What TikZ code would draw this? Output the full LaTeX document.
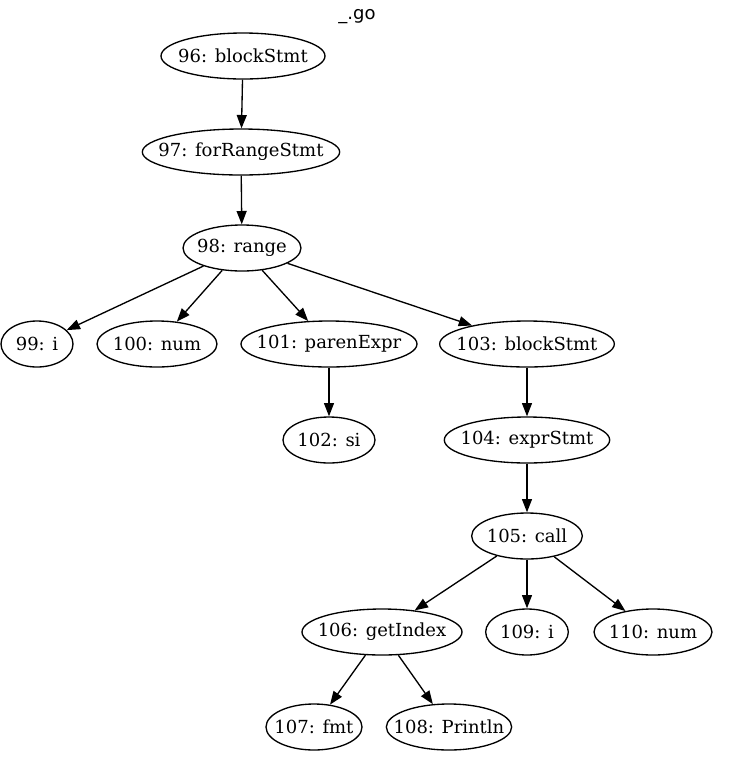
\documentclass[tikz,border=0pt]{standalone}
\usepackage{fontspec}
\setmainfont{DejaVu Serif}
\newfontfamily\titlefont{DejaVu Sans}
\usetikzlibrary{shapes.geometric,arrows.meta}

\newcommand{\lbl}[1]{\makebox[0pt]{#1}}

\begin{document}
\begin{tikzpicture}[
    x=0.75pt, y=-0.75pt,
    line width=1pt,
    tnode/.style={ellipse, draw, inner sep=0pt, minimum height=34.5pt,
      minimum width=#1, font=\fontsize{13.5}{15}\selectfont},
    >={Triangle[length=10pt,width=7.5pt]}
    ]
    \useasboundingbox (0,0) rectangle (730,769);

    \node[font=\titlefont\fontsize{13.5}{15}\selectfont] (title) at (357,17) {\_.go};

    % Nodes
    \node[tnode=123pt] (n96) at (243,56) {\lbl{96: blockStmt}};
    \node[tnode=148pt] (n97) at (241,152) {\lbl{97: forRangeStmt}};
    \node[tnode=88.5pt] (n98) at (242,248) {\lbl{98: range}};
    \node[tnode=54pt] (n99) at (37,344) {\lbl{99: i}};
    \node[tnode=90pt] (n100) at (157,344) {\lbl{100: num}};
    \node[tnode=132pt] (n101) at (329,344) {\lbl{101: parenExpr}};
    \node[tnode=131pt] (n103) at (527,344) {\lbl{103: blockStmt}};
    \node[tnode=69pt] (n102) at (329,440) {\lbl{102: si}};
    \node[tnode=124pt] (n104) at (527,440) {\lbl{104: exprStmt}};
    \node[tnode=83pt] (n105) at (527,536) {\lbl{105: call}};
    \node[tnode=120pt] (n106) at (382,632) {\lbl{106: getIndex}};
    \node[tnode=62pt] (n109) at (527,632) {\lbl{109: i}};
    \node[tnode=88.5pt] (n110) at (653,632) {\lbl{110: num}};
    \node[tnode=72pt] (n107) at (314,727) {\lbl{107: fmt}};
    \node[tnode=94pt] (n108) at (449,727) {\lbl{108: Println}};

    % Edges
    \foreach \from/\to in {96/97, 97/98, 98/99, 98/100, 98/101, 98/103,
                           101/102, 103/104, 104/105, 105/106, 105/109,
                           105/110, 106/107, 106/108}
        \draw[->] (n\from) -- (n\to);
\end{tikzpicture}
\end{document}
